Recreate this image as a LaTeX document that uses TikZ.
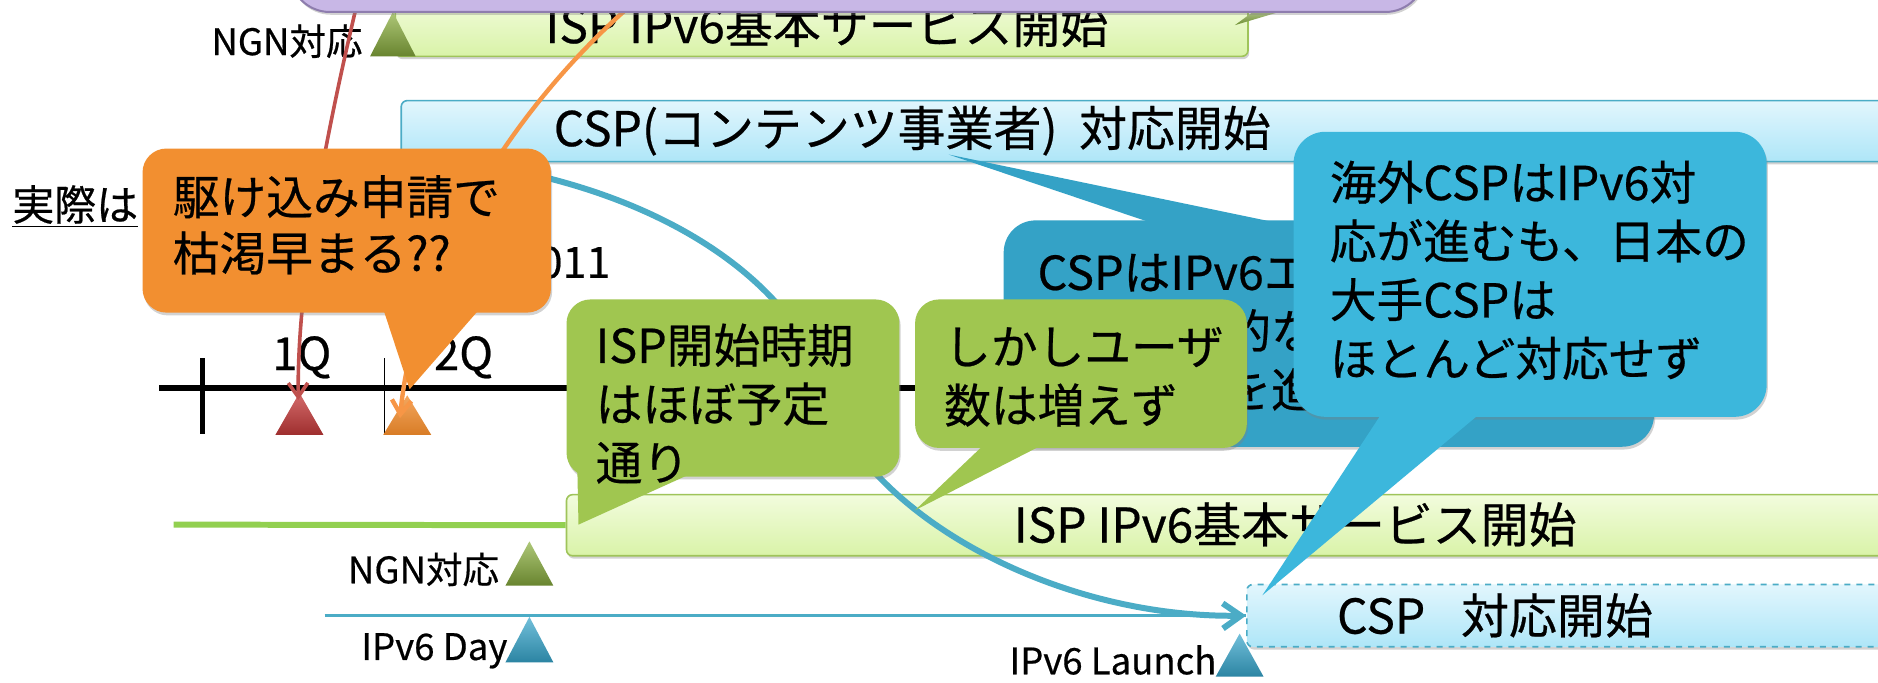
\documentclass[tikz,border=0pt]{standalone}
\usepackage{fontspec}
\setmainfont{Noto Sans CJK JP}[FakeBold=0.5]
\usetikzlibrary{arrows.meta,shadows,fit}
\definecolor{purpleF}{HTML}{C8B7E6}
\definecolor{purpleD}{HTML}{8E7DAE}
\definecolor{lgTop}{HTML}{F2FCDD}
\definecolor{lgBot}{HTML}{D9F3A8}
\definecolor{lgD}{HTML}{9FC45A}
\definecolor{lbTop}{HTML}{E2F6FD}
\definecolor{lbBot}{HTML}{AEE6F8}
\definecolor{lbD}{HTML}{4BACC6}
\definecolor{orC}{HTML}{F28F30}
\definecolor{grC}{HTML}{A0C650}
\definecolor{grDk}{HTML}{6E9030}
\definecolor{dbC}{HTML}{34A2C6}
\definecolor{rbC}{HTML}{3CB7DC}
\definecolor{redL}{HTML}{C0504D}
\definecolor{redT}{HTML}{C63A3A}
\definecolor{orL}{HTML}{F79646}
\definecolor{orT}{HTML}{F08A2A}
\definecolor{grLine}{HTML}{92D050}
\definecolor{blL}{HTML}{4BACC6}
\definecolor{triG}{HTML}{8BB03E}
\definecolor{triB}{HTML}{36A5CB}
\tikzset{
  bigtxt/.style={inner sep=0pt, font=\fontsize{24pt}{29pt}\selectfont},
  calltxt/.style={inner sep=0pt, align=left, font=\fontsize{23.4pt}{29.4pt}\selectfont},
  smalltxt/.style={inner sep=0pt, font=\fontsize{18.3pt}{21pt}\selectfont},
  qtxt/.style={inner sep=0pt, font=\fontsize{22.8pt}{26pt}\selectfont},
  shad/.style={drop shadow={shadow xshift=0.6pt, shadow yshift=-1.4pt, opacity=0.35}},
  gbar/.style={shad, draw=lgD, line width=0.8pt, top color=lgTop, bottom color=lgBot, rounded corners=3pt, inner sep=0pt},
  bbar/.style={shad, draw=lbD, line width=0.8pt, top color=lbTop, bottom color=lbBot, rounded corners=3pt, inner sep=0pt},
  callbox/.style={shad, inner sep=0pt, rounded corners=#1},
  barb/.style={-{Straight Barb[length=#1, width=1.4*#1]}},
}
\begin{document}
\begin{tikzpicture}[x=0.6pt,y=-0.6pt]
\useasboundingbox (0,0) rectangle (1568,570);
\clip (0,0) rectangle (1568,570);
\fill[white] (0,0) rectangle (1568,570);

% ---------- top section ----------
\node[gbar, fit={(330,-3) (1042,47)}] (ispTop) {};
\node[bigtxt, anchor=base west] (ispTopTxt) at (455,36) {ISP IPv6基本サービス開始};
\node[smalltxt, anchor=base east] (ngnTop) at (303,46) {NGN対応};
\coordinate (ngnTopTri) at (328,10);
\shade[top color=triG!70!white, bottom color=triG!75!black] (ngnTopTri) -- (347,47) -- (309,47) -- cycle;
\shade[top color=grDk!60!white, bottom color=grDk] (1031,21) -- (1046,10) -- (1068,10) -- cycle;

\node[bbar, fit={(335,84) (1600,135)}] (cspTop) {};
\node[bigtxt, anchor=base west] (cspTopTxt) at (462,122) {CSP(コンテンツ事業者)\hspace{0.45em}対応開始};

% ---------- timeline ----------
\coordinate (axL) at (133,324);
\coordinate (axR) at (1100,324);
\draw[line width=2.8pt] (axL) -- (axR);
\draw[line width=2.2pt] (169,299) -- (169,362);
\draw[line width=0.8pt] (321,299) -- (321,362);
\node[qtxt, anchor=base] (q1) at (252,309) {1Q};
\node[qtxt, anchor=base] (q2) at (387,309) {2Q};
\node[inner sep=0pt, font=\fontsize{21.6pt}{26pt}\selectfont, anchor=base east] (yr) at (510,232) {2011};
\node[inner sep=0pt, font=\fontsize{21pt}{25pt}\selectfont, anchor=base west] (jissai) at (10,184) {\underline{実際は}};

\coordinate (redTri) at (250,328);
\shade[top color=redT!75!white, bottom color=redT!80!black] (redTri) -- (270,363) -- (230,363) -- cycle;
\coordinate (orTri) at (340,330);
\shade[top color=orT!75!white, bottom color=orT!90!black] (orTri) -- (360,363) -- (320,363) -- cycle;

\coordinate (redS) at (300,-5);
\coordinate (redE) at (249,334);
\draw[redL, line width=1.8pt, barb=7pt] (redS) .. controls (275,100) and (248,230) .. (redE);
\coordinate (orS) at (534,-2);
\coordinate (orE) at (334,349);
\draw[orL, line width=2.2pt, barb=7pt] (orS) .. controls (420,95) and (345,230) .. (orE);

\node[shad, fit={(242,-80) (1190,10)}, fill=purpleF, draw=purpleD, line width=1pt, rounded corners=20pt, inner sep=0pt] (purple) {};

% ---------- lower section ----------
\coordinate (grS) at (145,438);
\node[gbar, fit={(473,413) (1600,464)}] (ispBot) {};
\draw[grLine, line width=3pt] (grS) -- (ispBot.west);
\node[bigtxt, anchor=base west] (ispBotTxt) at (846,453) {ISP IPv6基本サービス開始};

\node[smalltxt, anchor=base east] (ngnBot) at (417,487) {NGN対応};
\coordinate (ngnBotTri) at (442,452);
\shade[top color=triG!70!white, bottom color=triG!75!black] (ngnBotTri) -- (462,489) -- (422,489) -- cycle;

\node[bbar, dashed, fit={(1041,488) (1600,540)}] (cspBot) {};
\node[bigtxt, anchor=base west] (cspBotTxt) at (1116,529) {CSP\hspace{0.75em}対応開始};
\coordinate (blS) at (271,514);
\draw[blL, line width=1.2pt] (blS) -- (cspBot.west);

\node[smalltxt, anchor=base east] (v6day) at (424,551) {IPv6 Day};
\coordinate (dayTri) at (442,515);
\shade[top color=triB!70!white, bottom color=triB!80!black] (dayTri) -- (462,553) -- (422,553) -- cycle;

\node[smalltxt, anchor=base east] (v6launch) at (1016,563) {IPv6 Launch};
\coordinate (launchTri) at (1035,529);
\shade[top color=triB!70!white, bottom color=triB!80!black] (launchTri) -- (1055,565) -- (1015,565) -- cycle;

% blue curved arrow
\coordinate (bcS) at (400,137);
\coordinate (bcM) at (690,330);
\draw[blL, line width=3pt, barb=9pt] (bcS) .. controls (580,165) and (675,255) .. (bcM) .. controls (725,430) and (880,516) .. (cspBot.west);

% ---------- callouts ----------
% dark blue
\node[callbox=16pt, fill=dbC, fit={(838,184) (1381,373)}] (dbBox) {};
\coordinate (dbTip) at (792,129);
\fill[dbC] (985,194) -- (dbTip) -- (1095,192) -- cycle;
\node[calltxt, anchor=base west] (dbTxt) at (866,340) {CSPはIPv6エンドユーザ\\への大々的な\\対応準備を進める};

% green 1
\node[callbox=12pt, fill=grC, fit={(473,250) (751,398)}] (g1Box) {};
\coordinate (g1Tip) at (483,438);
\fill[grC] (482,390) -- (g1Tip) -- (589,390) -- cycle;
\node[calltxt, anchor=base west] (g1Txt) at (497,401) {ISP開始時期\\はほぼ予定\\通り};

% green 2
\node[callbox=12pt, fill=grC, fit={(764,250) (1041,374)}] (g2Box) {};
\coordinate (g2Tip) at (764,426);
\fill[grC] (825,368) -- (g2Tip) -- (877,368) -- cycle;
\node[calltxt, anchor=base west] (g2Txt) at (788,353) {しかしユーザ\\数は増えず};

% right blue
\node[callbox=16pt, fill=rbC, fit={(1080,110) (1475,348)}] (rbBox) {};
\coordinate (rbTip) at (1054,497);
\fill[rbC] (1157,340) -- (rbTip) -- (1242,340) -- cycle;
\node[calltxt, anchor=base west] (rbTxt) at (1110,314) {海外CSPはIPv6対\\応が進むも、日本の\\大手CSPは\\ほとんど対応せず};

% orange
\node[callbox=12pt, fill=orC, fit={(119,124) (460,261)}] (orBox) {};
\coordinate (orTip) at (342,325);
\fill[orC] (319,255) -- (orTip) -- (403,255) -- cycle;
\node[inner sep=0pt, align=left, font=\fontsize{23.4pt}{28.2pt}\selectfont, anchor=base west] (orTxt) at (144,226) {駆け込み申請で\\枯渇早まる??};
\end{tikzpicture}
\end{document}
